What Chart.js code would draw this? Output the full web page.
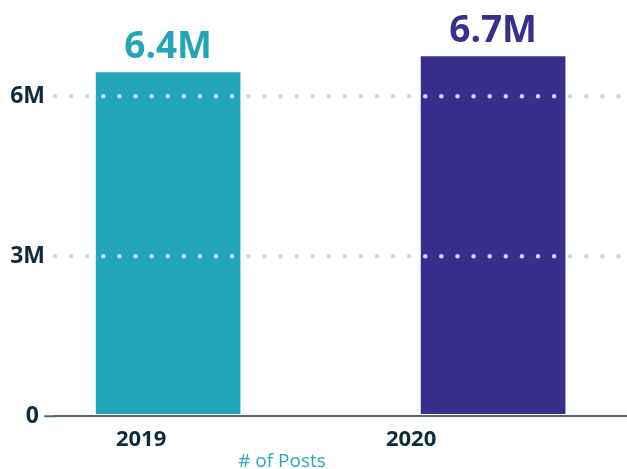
<!DOCTYPE html>
<html><head><meta charset="utf-8">
<script src="https://cdn.jsdelivr.net/npm/chart.js@4/dist/chart.umd.min.js"></script>
<style>html,body{margin:0;padding:0;background:#fff;overflow:hidden}#wrap{width:627px;height:469px;position:relative}</style>
</head><body><div id="wrap"><canvas id="c"></canvas></div>
<script>
const categories = ['2019', '2020'];
const postValues = [6.44, 6.74];
const yTicks = [0, 3, 6];
const yTickLabels = ['0 ', '3M', '6M'];
const axisTitle = '# of Posts';
const valueLabels = postValues.map(v => v.toFixed(1) + 'M');

const FONT = "'Open Sans', sans-serif";
const barColors = ['#22a4b9', '#372f8b'];
const darkText = '#0e2a3c';
const baseColor = '#4e6a76';
const dotColor = '#c2dfe8';

const deco = {
  id: 'deco',
  afterDatasetsDraw(chart) {
    const ctx = chart.ctx;
    const meta = chart.getDatasetMeta(0);
    ctx.save();
    ctx.font = 'bold 37px ' + FONT;
    ctx.textAlign = 'center';
    ctx.textBaseline = 'alphabetic';
    meta.data.forEach((bar, i) => {
      ctx.fillStyle = barColors[i];
      ctx.fillText(valueLabels[i], bar.x, bar.y - 15);
    });
    ctx.font = '19px ' + FONT;
    ctx.fillStyle = '#2aa7ba';
    ctx.fillText(axisTitle, chart.chartArea.left + 227, 467);
    ctx.restore();
    ctx.lineCap = 'round';
  }
};

new Chart(document.getElementById('c'), {
  type: 'bar',
  data: {
    datasets: [{
      data: categories.map((c, i) => ({ x: Number(c), y: postValues[i] })),
      backgroundColor: barColors,
      barThickness: 144,
      xAxisID: 'x',
      yAxisID: 'y'
    }]
  },
  options: {
    responsive: true,
    maintainAspectRatio: false,
    animation: false,
    layout: { padding: { top: 16, right: 0, bottom: 0, left: 0 } },
    plugins: { legend: { display: false }, tooltip: { enabled: false } },
    scales: {
      x: { type: 'linear', min: 2018.652, max: 2020.412, offset: false, display: false },
      xl: {
        type: 'linear', position: 'bottom', min: 2018.681, max: 2020.8, offset: false,
        afterBuildTicks: s => { s.ticks = categories.map(c => ({ value: Number(c) })); },
        afterFit: s => { s.height = 53; },
        grid: { display: false, drawTicks: false, tickLength: 0, offset: false },
        border: { display: true, color: baseColor, width: 2, z: 1 },
        ticks: {
          callback: (v, i) => categories[i],
          font: { family: FONT, size: 22, weight: 'bold' },
          color: darkText, padding: 11, maxRotation: 0, autoSkip: false
        }
      },
      y: {
        min: 0, max: 7.5, position: 'left',
        afterBuildTicks: s => { s.ticks = yTicks.map(v => ({ value: v })); },
        afterFit: s => { s.width = 55; },
        grid: {
          z: 1,
          color: c => (c.tick && c.tick.value === 0) ? 'rgba(0,0,0,0)' : dotColor,
          lineWidth: 4.6,
          drawTicks: true, tickLength: 10, tickWidth: 2,
          tickColor: c => (c.tick && c.tick.value === 0) ? baseColor : 'rgba(0,0,0,0)'
        },
        border: { display: false, dash: [0, 16.1] },
        ticks: {
          callback: (v, i) => yTickLabels[i],
          font: { family: FONT, size: 23, weight: 'bold' },
          color: darkText, padding: 0
        }
      }
    }
  },
  plugins: [deco]
});
</script>
</body></html>
